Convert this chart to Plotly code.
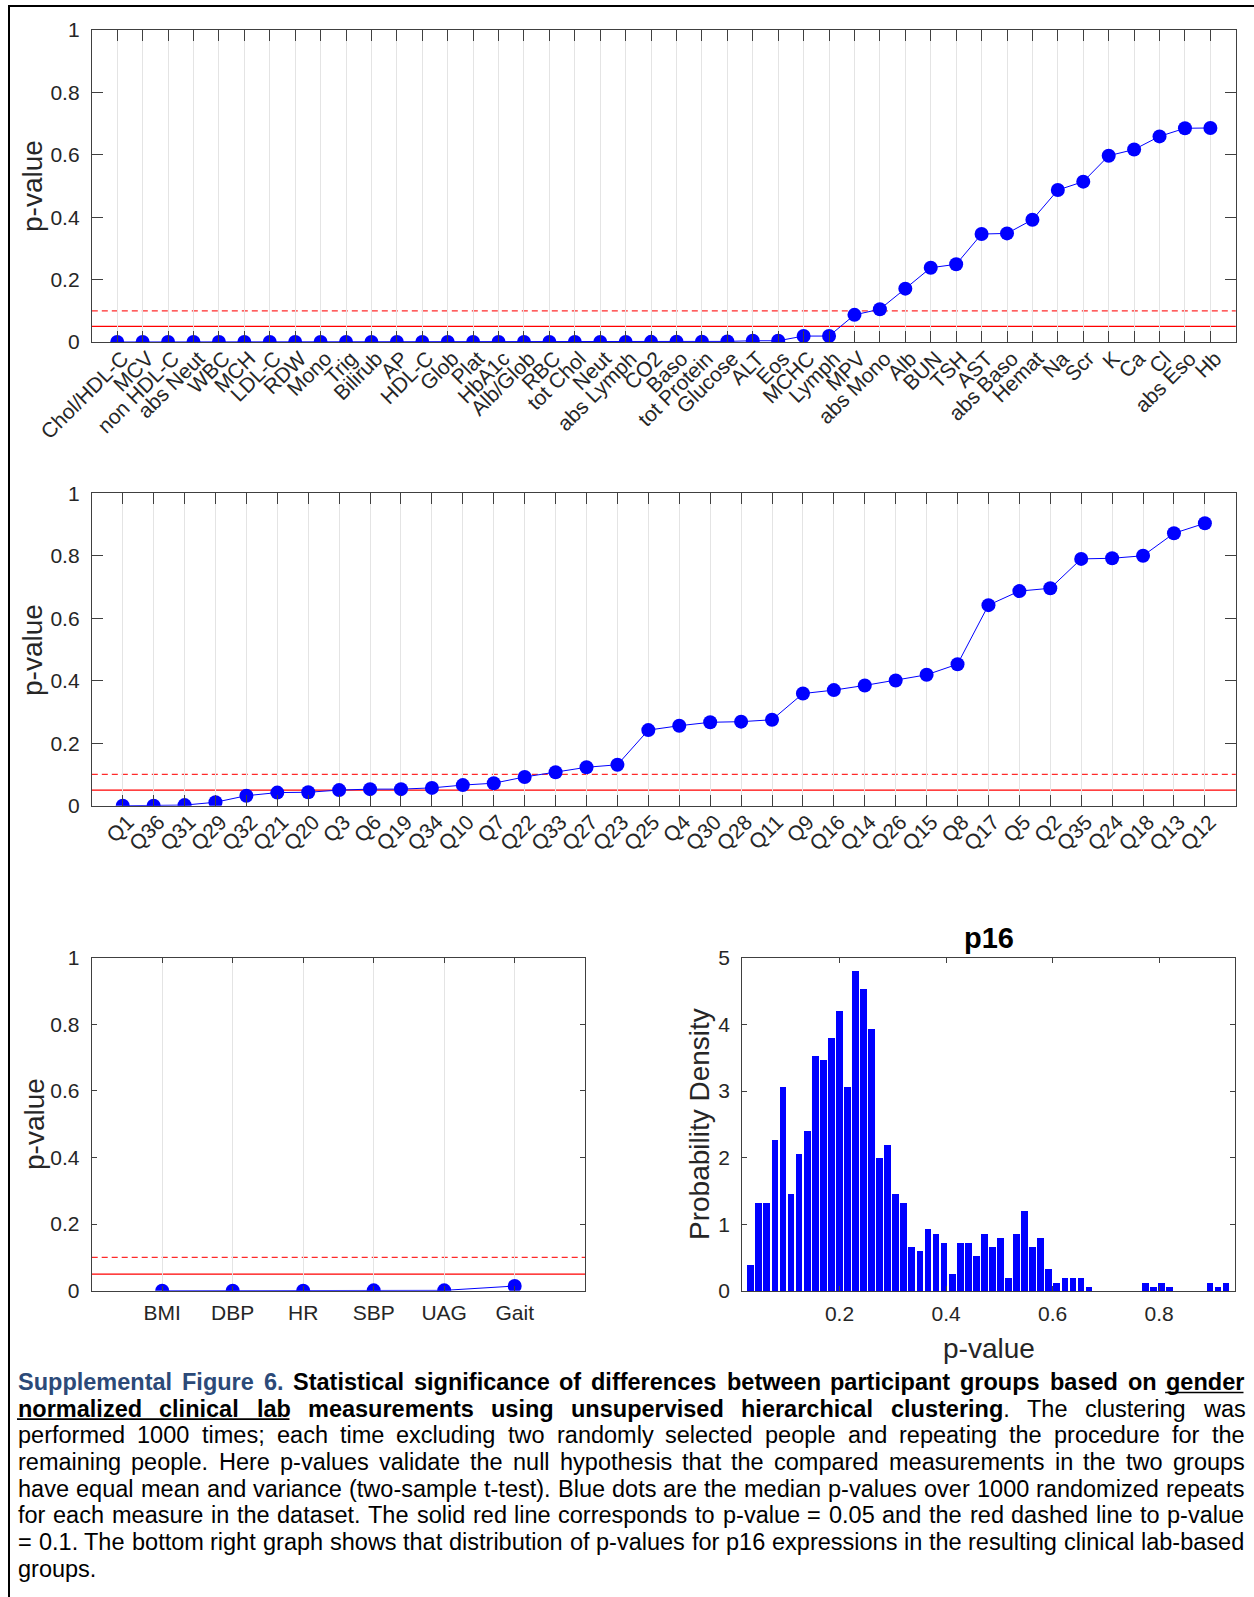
import plotly.graph_objects as go

W, H = 1254, 1597
def X(px): return px / W
def Y(py): return 1 - py / H

# ---------------- data ----------------
lab_names = ["Chol/HDL-C", "MCV", "non HDL-C", "abs Neut", "WBC", "MCH", "LDL-C", "RDW", "Mono", "Trig",
             "Bilirub", "AP", "HDL-C", "Glob", "Plat", "HbA1c", "Alb/Glob", "RBC", "tot Chol", "Neut",
             "abs Lymph", "CO2", "Baso", "tot Protein", "Glucose", "ALT", "Eos", "MCHC", "Lymph", "MPV",
             "abs Mono", "Alb", "BUN", "TSH", "AST", "abs Baso", "Hemat", "Na", "Scr", "K",
             "Ca", "Cl", "abs Eso", "Hb"]
lab_pvals = [0.0, 0.0, 0.0, 0.0, 0.0, 0.0, 0.0, 0.0, 0.0, 0.0,
             0.0, 0.0, 0.0, 0.0, 0.0, 0.0, 0.0, 0.0, 0.0, 0.0,
             0.0, 0.0005, 0.001, 0.001, 0.002, 0.004, 0.004, 0.019, 0.019, 0.087,
             0.105, 0.171, 0.238, 0.249, 0.346, 0.348, 0.392, 0.487, 0.514, 0.597,
             0.617, 0.659, 0.685, 0.686]

q_names = ["Q1", "Q36", "Q31", "Q29", "Q32", "Q21", "Q20", "Q3", "Q6", "Q19", "Q34", "Q10",
           "Q7", "Q22", "Q33", "Q27", "Q23", "Q25", "Q4", "Q30", "Q28", "Q11", "Q9", "Q16",
           "Q14", "Q26", "Q15", "Q8", "Q17", "Q5", "Q2", "Q35", "Q24", "Q18", "Q13", "Q12"]
q_pvals = [0.0, 0.0, 0.002, 0.011, 0.032, 0.042, 0.043, 0.050, 0.053, 0.053, 0.057, 0.066,
           0.072, 0.092, 0.107, 0.123, 0.131, 0.242, 0.256, 0.267, 0.269, 0.275, 0.359, 0.370,
           0.385, 0.401, 0.419, 0.453, 0.642, 0.687, 0.696, 0.790, 0.792, 0.800, 0.872, 0.904]

vital_names = ["BMI", "DBP", "HR", "SBP", "UAG", "Gait"]
vital_pvals = [0.0, 0.0, 0.0, 0.001, 0.001, 0.014]

p16_bin_start = 0.0262
p16_bin_width = 0.01512
p16_density = [0.39, 1.33, 1.33, 2.265, 3.06, 1.465, 2.065, 2.40, 3.53, 3.465,
               3.80, 4.20, 3.06, 4.80, 4.53, 3.93, 2.00, 2.20, 1.465, 1.33,
               0.665, 0.60, 0.93, 0.865, 0.73, 0.265, 0.73, 0.73, 0.53, 0.865,
               0.665, 0.80, 0.20, 0.865, 1.20, 0.665, 0.80, 0.33, 0.13, 0.20,
               0.20, 0.20, 0.065, 0.0, 0.0, 0.0, 0.0, 0.0, 0.0, 0.13,
               0.065, 0.13, 0.065, 0.0, 0.0, 0.0, 0.0, 0.13, 0.065, 0.13]
p16_xrange = [0.0174, 0.943]
p16_xticks = [0.2, 0.4, 0.6, 0.8]
p16_yticks = [0, 1, 2, 3, 4, 5]

p_ticks = [0, 0.2, 0.4, 0.6, 0.8, 1]
p_tick_text = ["0", "0.2", "0.4", "0.6", "0.8", "1"]
alpha_solid = 0.05
alpha_dashed = 0.1

# ---------------- style ----------------
FONT = "Liberation Sans, Arial, Helvetica, sans-serif"
AX = "#404040"
TXT = "#262626"
BLUE = "#0000ff"
GRID = "#e4e4e4"
TICKF = dict(family=FONT, size=21, color=TXT)

fig = go.Figure()

panels = [
    ("x", "y", (91.8, 1235.8), (30, 342), lab_names, lab_pvals, 11, -45),
    ("x2", "y2", (91.8, 1235.8), (493.3, 805.7), q_names, q_pvals, 11, -45),
    ("x3", "y3", (91.7, 585.2), (957.7, 1290.7), vital_names, vital_pvals, 5, 0),
]

layout_axes = {}
shapes = []
for xa, ya, (xl, xr), (yt, yb), names, vals, tl, ang in panels:
    xd = xa + " domain"
    shapes.append(dict(type="line", xref=xd, yref=ya, x0=0, x1=1, y0=alpha_solid, y1=alpha_solid,
                       line=dict(color="#ff0000", width=1.2), layer="below"))
    shapes.append(dict(type="line", xref=xd, yref=ya, x0=0, x1=1, y0=alpha_dashed, y1=alpha_dashed,
                       line=dict(color="#ff2a2a", width=1.2, dash="6px,4px"), layer="below"))
    fig.add_trace(go.Scatter(
        x=names, y=vals, mode="lines+markers", xaxis=xa, yaxis=ya,
        line=dict(color=BLUE, width=1),
        marker=dict(color=BLUE, size=14, line=dict(width=0)),
        showlegend=False, hoverinfo="skip"))
    xkey = "xaxis" + xa[1:]
    ykey = "yaxis" + ya[1:]
    layout_axes[xkey] = dict(
        domain=[X(xl), X(xr)], anchor=ya, type="category",
        categoryorder="array", categoryarray=names,
        range=[-1, len(names)], showgrid=True, gridcolor=GRID, gridwidth=1,
        showline=True, linecolor=AX, linewidth=1, mirror="ticks",
        ticks="inside", ticklen=tl, tickcolor=AX, tickwidth=1,
        tickangle=ang, tickfont=dict(family=FONT, size=21, color=TXT),
        zeroline=False, automargin=False, fixedrange=True,
        ticklabelstandoff=(-5 if ang else 3), ticklabelshift=(5 if ang else 0))
    layout_axes[ykey] = dict(
        domain=[Y(yb), Y(yt)], anchor=xa, range=[0, 1],
        tickvals=p_ticks, ticktext=p_tick_text, showgrid=False,
        showline=True, linecolor=AX, linewidth=1, mirror="ticks",
        ticks="inside", ticklen=tl, tickcolor=AX, tickwidth=1,
        tickfont=TICKF, zeroline=False, automargin=False, fixedrange=True,
        ticklabelstandoff=7)

# histogram
centers = [p16_bin_start + (i + 0.5) * p16_bin_width for i in range(len(p16_density))]
fig.add_trace(go.Bar(x=centers, y=p16_density, width=p16_bin_width * 0.84,
                     marker=dict(color=BLUE, line=dict(width=0)),
                     xaxis="x4", yaxis="y4", showlegend=False, hoverinfo="skip"))
layout_axes["xaxis4"] = dict(
    domain=[X(742.2), X(1235.4)], anchor="y4", range=p16_xrange,
    tickvals=p16_xticks, ticktext=[str(v) for v in p16_xticks], showgrid=False,
    showline=True, linecolor=AX, linewidth=1, mirror="ticks",
    ticks="inside", ticklen=5, tickcolor=AX, tickfont=TICKF,
    zeroline=False, automargin=False, fixedrange=True, ticklabelstandoff=4)
layout_axes["yaxis4"] = dict(
    domain=[Y(1291), Y(957.7)], anchor="x4", range=[0, 5],
    tickvals=p16_yticks, showgrid=False,
    showline=True, linecolor=AX, linewidth=1, mirror="ticks",
    ticks="inside", ticklen=5, tickcolor=AX, tickfont=TICKF,
    zeroline=False, automargin=False, fixedrange=True, ticklabelstandoff=7)

annotations = []
def label(text, x, y, size=28, angle=0, bold=False):
    annotations.append(dict(text=("<b>%s</b>" % text) if bold else text, x=X(x), y=Y(y),
                            xref="paper", yref="paper", showarrow=False, textangle=angle,
                            xanchor="center", yanchor="middle", borderpad=0,
                            font=dict(family=FONT, size=size, color=TXT if not bold else "#000000")))

label("p-value", 33, 186, angle=-90)
label("p-value", 33, 650, angle=-90)
label("p-value", 34, 1124, angle=-90)
label("Probability Density", 699, 1124, angle=-90)
label("p-value", 988.8, 1348)
label("p16", 988.8, 938, size=29, bold=True)

# ---------------- caption (justified) ----------------
REG = {' ': 278, '!': 278, '"': 355, '%': 889, '&': 667, "'": 191, '(': 333, ')': 333, '*': 389,
       '+': 584, ',': 278, '-': 333, '.': 278, '/': 278, ':': 278, ';': 278, '<': 584, '=': 584,
       '>': 584, '@': 1015, 'A': 667, 'B': 667, 'C': 722, 'D': 722, 'E': 667, 'F': 611, 'G': 778,
       'H': 722, 'I': 278, 'J': 500, 'K': 667, 'L': 556, 'M': 833, 'N': 722, 'O': 778, 'P': 667,
       'Q': 778, 'R': 722, 'S': 667, 'T': 611, 'U': 722, 'V': 667, 'W': 944, 'X': 667, 'Y': 667,
       'Z': 611, 'c': 500, 'f': 278, 'i': 222, 'j': 222, 'k': 500, 'l': 222, 'm': 833, 'r': 333,
       's': 500, 't': 278, 'v': 500, 'w': 722, 'x': 500, 'y': 500, 'z': 500}
BOLD = {' ': 278, '!': 333, '"': 474, '%': 889, '&': 722, "'": 238, '(': 333, ')': 333, '*': 389,
        '+': 584, ',': 278, '-': 333, '.': 278, '/': 278, ':': 333, ';': 333, '<': 584, '=': 584,
        '>': 584, '?': 611, '@': 975, 'A': 722, 'B': 722, 'C': 722, 'D': 722, 'E': 667, 'F': 611,
        'G': 778, 'H': 722, 'I': 278, 'J': 556, 'K': 722, 'L': 611, 'M': 833, 'N': 722, 'O': 778,
        'P': 667, 'Q': 778, 'R': 722, 'S': 667, 'T': 611, 'U': 722, 'V': 667, 'W': 944, 'X': 667,
        'Y': 667, 'Z': 611, 'b': 611, 'd': 611, 'f': 333, 'g': 611, 'h': 611, 'i': 278, 'j': 278,
        'l': 278, 'm': 889, 'n': 611, 'o': 611, 'p': 611, 'q': 611, 'r': 389, 't': 333, 'u': 611,
        'w': 778, 'z': 500}

CAP_SIZE = 23.5
CAP_X0, CAP_X1 = 17.0, 1243.5
CAP_BASE0, CAP_LH = 1390.0, 26.67
CAP_BLUE = "#2c4a78"

caption_lines = [
    [("Supplemental Figure 6.", "fig"),
     (" Statistical significance of differences between participant groups based on ", "b"),
     ("gender", "bu")],
    [("normalized clinical lab", "bu"),
     (" measurements using unsupervised hierarchical clustering", "b"),
     (". The clustering was", "n")],
    [("performed 1000 times; each time excluding two randomly selected people and repeating the procedure for the", "n")],
    [("remaining people. Here p-values validate the null hypothesis that the compared measurements in the two groups", "n")],
    [("have equal mean and variance (two-sample t-test). Blue dots are the median p-values over 1000 randomized repeats", "n")],
    [("for each measure in the dataset. The solid red line corresponds to p-value = 0.05 and the red dashed line to p-value", "n")],
    [("= 0.1. The bottom right graph shows that distribution of p-values for p16 expressions in the resulting clinical lab-based", "n")],
    [("groups.", "n")],
]

def cw(c, bold):
    t = BOLD if bold else REG
    return t.get(c, 556) * CAP_SIZE / 1000.0

def run_html(text, style):
    if style in ("b", "bu"):
        return "<b>%s</b>" % text
    return text

def underline(x0, x1, base):
    shapes.append(dict(type="line", xref="paper", yref="paper",
                       x0=X(x0), x1=X(x1), y0=Y(base + 2.5), y1=Y(base + 2.5),
                       line=dict(color="#000000", width=1.6)))

for li, segs in enumerate(caption_lines):
    chars = []
    for text, st in segs:
        for c in text:
            chars.append((c, st))
    tokens, cur = [], []
    for c, st in chars:
        if c == " ":
            if cur:
                tokens.append(cur)
                cur = []
        else:
            cur.append((c, st))
    if cur:
        tokens.append(cur)
    widths = [sum(cw(c, st != "n") for c, st in tk) for tk in tokens]
    total = sum(widths)
    last = li == len(caption_lines) - 1
    if last or len(tokens) < 2:
        gap = cw(" ", False)
    else:
        gap = (CAP_X1 - CAP_X0 - total) / (len(tokens) - 1)
    base = CAP_BASE0 + li * CAP_LH
    x = CAP_X0
    ul_start = None
    ul_end = None
    for tk, w in zip(tokens, widths):
        runs = []
        for c, st in tk:
            if runs and runs[-1][1] == st:
                runs[-1][0] += c
            else:
                runs.append([c, st])
        is_fig = all(st == "fig" for _, st in tk)
        if is_fig:
            html = "<b>%s</b>" % "".join(c for c, _ in tk)
            col = CAP_BLUE
        else:
            html = "".join(run_html(r[0], r[1]) for r in runs)
            col = "#000000"
        annotations.append(dict(text=html, x=X(x), y=Y(base - 0.3465 * CAP_SIZE),
                                xref="paper", yref="paper", showarrow=False,
                                xanchor="left", yanchor="middle", borderpad=0,
                                font=dict(family=FONT, size=CAP_SIZE, color=col)))
        is_ul = all(st == "bu" for _, st in tk)
        if is_ul:
            if ul_start is None:
                ul_start = x
            ul_end = x + w
        else:
            if ul_start is not None:
                underline(ul_start, ul_end, base)
                ul_start = None
        x += w + gap
    if ul_start is not None:
        underline(ul_start, ul_end, base)

# frame lines
shapes.append(dict(type="line", xref="paper", yref="paper", x0=X(8), x1=1, y0=Y(6), y1=Y(6),
                   line=dict(color="#000000", width=2)))
shapes.append(dict(type="line", xref="paper", yref="paper", x0=X(9), x1=X(9), y0=Y(5), y1=0,
                   line=dict(color="#000000", width=2)))

fig.update_layout(
    width=W, height=H, margin=dict(l=0, r=0, t=0, b=0, pad=0),
    template="none", paper_bgcolor="white", plot_bgcolor="white",
    showlegend=False, bargap=0, font=dict(family=FONT, color=TXT),
    shapes=shapes, annotations=annotations, **layout_axes)

fig.write_html("out.html")
